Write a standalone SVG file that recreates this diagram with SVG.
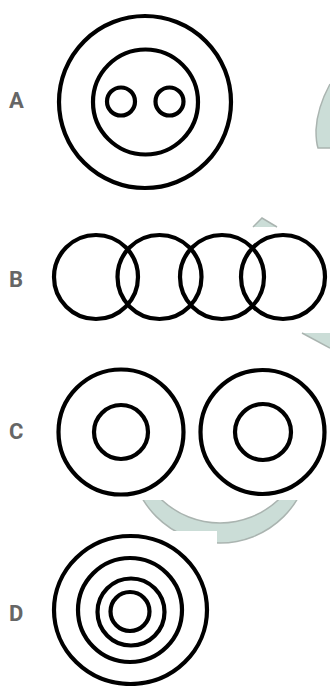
<svg xmlns="http://www.w3.org/2000/svg" width="330" height="686" viewBox="0 0 330 686">
<style>
.c{fill:none;stroke:#000;stroke-width:4.2}
.lbl{font-family:Roboto,"Liberation Sans",sans-serif;font-weight:bold;font-size:22px;fill:#666}
.wm{fill:#cbddd7}
.wme{fill:none;stroke:#aab4b0;stroke-width:1.5}
</style>
<defs>
<clipPath id="clipCres"><path d="M130 500 L330 500 L330 560 L217 560 L217 531 L130 531 Z"/></clipPath>
</defs>
<rect width="330" height="686" fill="#fff"/>
<g id="watermark">
<path class="wm" d="M330 84 Q317 108 316 130 Q316 142 318 148 L330 148 Z"/>
<path class="wme" d="M330 84 Q317 108 316 130 Q316 142 318 148 L330 148"/>
<path class="wm" d="M253 227 L262 218 L277 227 Z"/>
<path class="wme" d="M253 227 L262 218 L277 227"/>
<path class="wm" d="M302 333 L330 333 L330 348 Z"/>
<path class="wme" d="M302 333 L330 348"/>
<g clip-path="url(#clipCres)">
<path class="wm" fill-rule="evenodd" d="M130 453 A90 90 0 1 0 310 453 A90 90 0 1 0 130 453 Z M135 438 A85 85 0 1 0 305 438 A85 85 0 1 0 135 438 Z"/>
<circle class="wme" cx="220" cy="453" r="90"/>
<circle class="wme" cx="220" cy="438" r="85"/>
</g>
</g>
<g id="A">
<text class="lbl" x="9" y="108">A</text>
<circle class="c" cx="145" cy="102" r="86"/>
<circle class="c" cx="145.5" cy="102" r="52.5"/>
<circle class="c" cx="121" cy="101.5" r="14"/>
<circle class="c" cx="169.5" cy="101.5" r="14"/>
</g>
<g id="B">
<text class="lbl" x="9" y="287">B</text>
<circle class="c" cx="96" cy="277" r="42"/>
<circle class="c" cx="159.5" cy="277" r="42"/>
<circle class="c" cx="222" cy="277" r="42"/>
<circle class="c" cx="283" cy="277" r="42"/>
</g>
<g id="C">
<text class="lbl" x="9" y="439">C</text>
<circle class="c" cx="121" cy="432" r="62.5"/>
<circle class="c" cx="121" cy="432" r="27"/>
<circle class="c" cx="262.5" cy="432" r="62"/>
<circle class="c" cx="263" cy="432" r="28"/>
</g>
<g id="D">
<text class="lbl" x="9" y="621">D</text>
<ellipse class="c" cx="130.5" cy="610" rx="76.5" ry="74"/>
<circle class="c" cx="130" cy="610" r="52"/>
<circle class="c" cx="131" cy="612" r="33.5"/>
<circle class="c" cx="130" cy="611.5" r="19.5"/>
</g>
</svg>
